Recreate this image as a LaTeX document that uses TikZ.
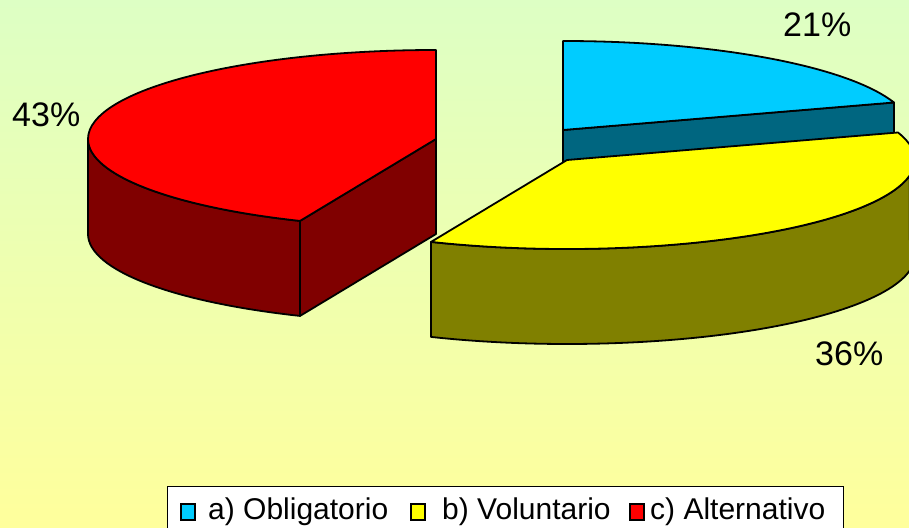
\documentclass[tikz,border=0pt]{standalone}
\usepackage{fontspec}
\setmainfont{Liberation Sans}
\usetikzlibrary{calc}
\definecolor{bgtop}{RGB}{221,255,196}
\definecolor{bgbot}{RGB}{255,255,156}
\definecolor{redtop}{RGB}{255,0,0}
\definecolor{redside}{RGB}{128,0,0}
\definecolor{bluetop}{RGB}{0,204,255}
\definecolor{blueside}{RGB}{0,102,128}
\definecolor{yeltop}{RGB}{255,255,0}
\definecolor{yelside}{RGB}{128,128,0}
\begin{document}
\begin{tikzpicture}[x=1pt,y=1pt,
  face/.style={draw=black,line width=1.8pt,line join=round},
  ell/.style={x radius=348pt,y radius=89pt},
  pct/.style={font=\fontsize{34}{40}\selectfont, anchor=base west, inner sep=0pt},
  leg/.style={font=\fontsize{30}{36}\selectfont, anchor=base west, inner sep=0pt},
  legsq/.style={draw=black, line width=2pt}]
\useasboundingbox (0,0) rectangle (909,527);
\clip (0,0) rectangle (909,527);
\shade[top color=bgtop, bottom color=bgbot] (0,0) rectangle (909,527);

% ---- red slice (43%)
\coordinate (rc) at (436,388);
\coordinate (rcb) at (436,293);
\path[face,fill=redside] ($(rc)+(180:348pt and 89pt)$) arc[start angle=180,end angle=247,ell]
  -- ($(rcb)+(247:348pt and 89pt)$) arc[start angle=247,end angle=180,ell] -- cycle;
\path[face,fill=redside] (rc) -- ($(rc)+(247:348pt and 89pt)$) -- ($(rcb)+(247:348pt and 89pt)$) -- (rcb) -- cycle;
\path[face,fill=redtop] (rc) -- ($(rc)+(90:348pt and 89pt)$) arc[start angle=90,end angle=247,ell] -- cycle;

% ---- blue slice (21%)
\coordinate (bc) at (563,397);
\coordinate (bcb) at (563,302);
\path[face,fill=blueside] (bc) -- ($(bc)+(18:348pt and 89pt)$) -- ($(bcb)+(18:348pt and 89pt)$) -- (bcb) -- cycle;
\path[face,fill=bluetop] (bc) -- ($(bc)+(18:348pt and 89pt)$) arc[start angle=18,end angle=90,ell] -- cycle;

% ---- yellow slice (36%)
\coordinate (yc) at (567,367);
\coordinate (ycb) at (567,272);
\path[face,fill=yelside] ($(yc)+(247:348pt and 89pt)$) arc[start angle=247,end angle=370,ell]
  -- ($(ycb)+(370:348pt and 89pt)$) arc[start angle=370,end angle=247,ell] -- cycle;
\path[face,fill=yeltop] (yc) -- ($(yc)+(247:348pt and 89pt)$) arc[start angle=247,end angle=378,ell] -- cycle;

% ---- percentage labels
\node[pct] (l43) at (12,400) {43\%};
\node[pct] (l21) at (783,490) {21\%};
\node[pct] (l36) at (815,161) {36\%};

% ---- legend
\path[draw=black, line width=1pt, fill=white] (167,41) rectangle (843,-10);
\path[legsq, fill=bluetop] (180.5,7.5) rectangle (195,23);
\node[leg] (la) at (208,8) {a) Obligatorio};
\path[legsq, fill=yeltop] (410.5,7.5) rectangle (425,23);
\node[leg] (lb) at (442,8) {b) Voluntario};
\path[legsq, fill=redtop] (629.5,7.5) rectangle (644,23);
\node[leg] (lc) at (650,8) {c) Alternativo};
\end{tikzpicture}
\end{document}
